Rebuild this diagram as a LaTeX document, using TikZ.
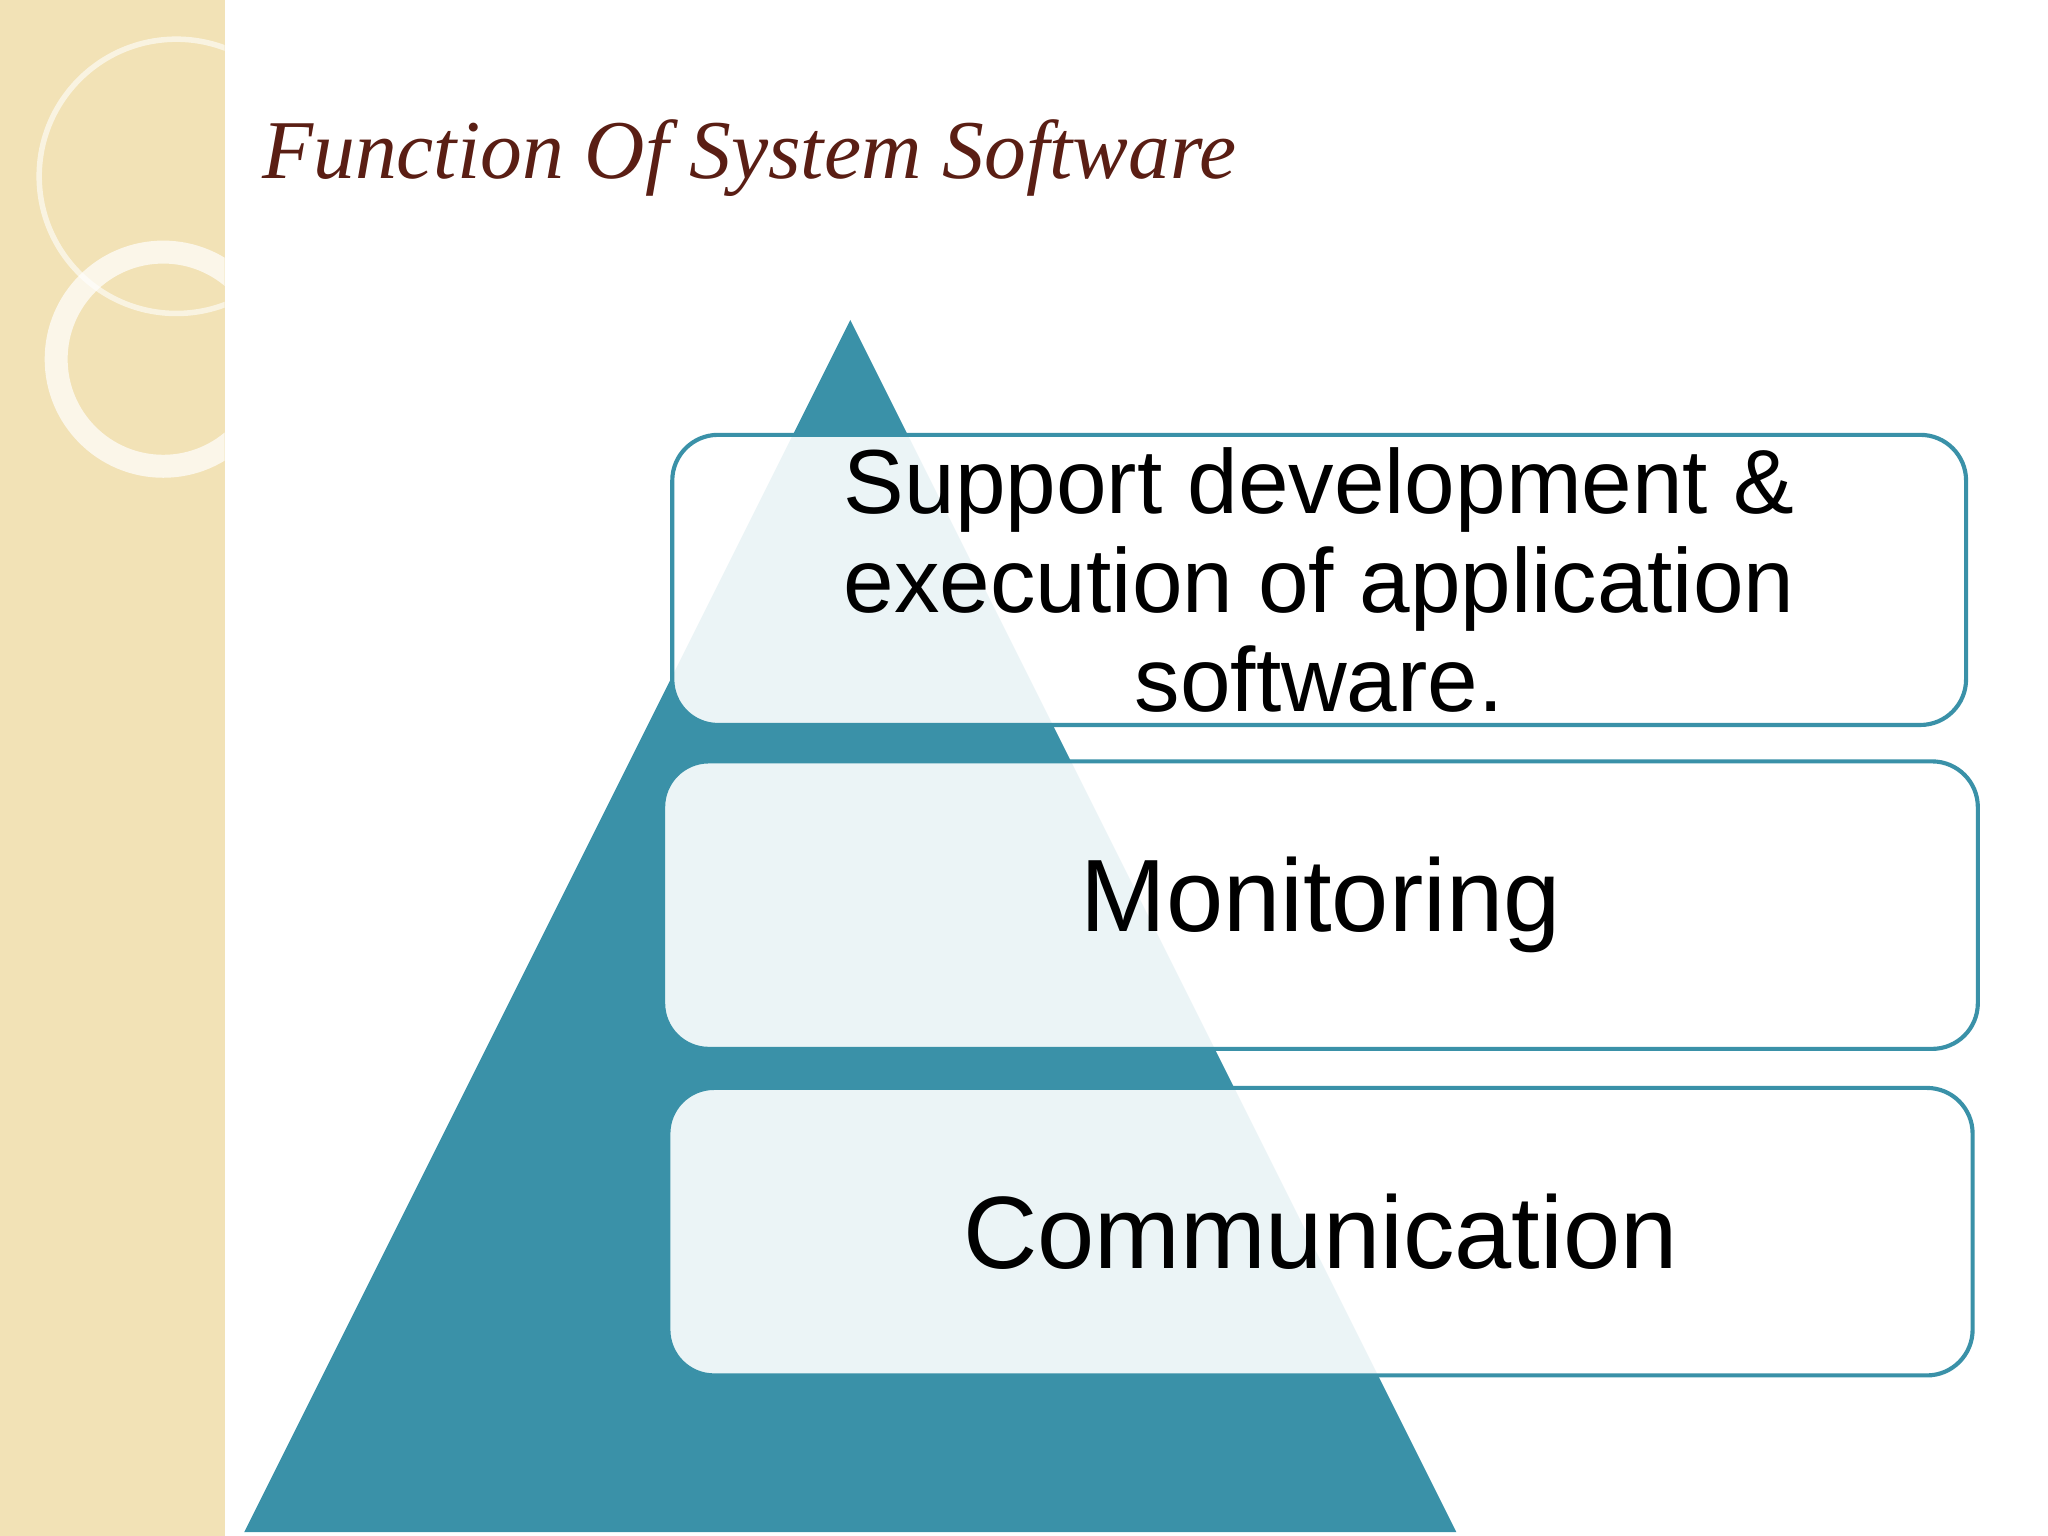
\documentclass[tikz,border=0pt]{standalone}
\usepackage{fontspec}
\setmainfont{Liberation Sans}
\newfontfamily\titlefont{Liberation Serif}
\definecolor{teal1}{HTML}{3A91A8}
\definecolor{beige}{HTML}{F2E2B6}
\definecolor{brown1}{HTML}{5A1E14}
\tikzset{fbox/.style={draw=teal1,line width=0.9pt,rounded corners=0.35cm,fill=white,fill opacity=0.9,text opacity=1,text=black,align=center,inner sep=0pt}}
\begin{document}
\begin{tikzpicture}[x=0.01cm,y=-0.01cm]
\useasboundingbox (0,0) rectangle (1568,1176);
\fill[white] (0,0) rectangle (1568,1176);
\fill[beige] (0,0) rectangle (172,1176);
\begin{scope}
\clip (0,0) rectangle (172,1176);
\draw[white,opacity=0.6,line width=1.2pt] (135,135) circle (105);
\draw[white,opacity=0.7,line width=5pt] (125,275) circle (82);
\end{scope}
\node[anchor=base west,text=brown1,inner sep=0pt,font=\titlefont\itshape\fontsize{18.2}{22}\selectfont] (title) at (200,137) {Function Of System Software};
\fill[teal1] (651,245) -- (1115,1173) -- (187,1173) -- cycle;
\node[fbox,minimum width=9.9cm,minimum height=2.22cm,font=\fontsize{19.8}{21.5}\selectfont] (b1) at (1010,444) {Support development \&\\execution of application\\software.};
\node[fbox,minimum width=10.06cm,minimum height=2.2cm,font=\fontsize{22.4}{26}\selectfont] (b2) at (1011,693) {Monitoring};
\node[fbox,minimum width=9.98cm,minimum height=2.2cm,font=\fontsize{22.4}{26}\selectfont] (b3) at (1011,943) {Communication};
\end{tikzpicture}
\end{document}
